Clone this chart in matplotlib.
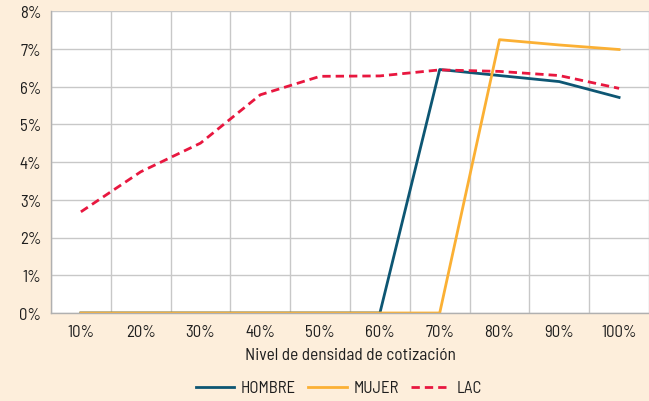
import matplotlib
matplotlib.use("Agg")
import matplotlib.pyplot as plt
from matplotlib.ticker import FuncFormatter

categories = ["10%", "20%", "30%", "40%", "50%", "60%", "70%", "80%", "90%", "100%"]
hombre = [0, 0, 0, 0, 0, 0, 6.45, 6.29, 6.13, 5.71]
mujer = [0, 0, 0, 0, 0, 0, 0, 7.24, 7.10, 6.98]
lac = [2.68, 3.74, 4.50, 5.78, 6.27, 6.28, 6.44, 6.40, 6.29, 5.95]

plt.rcParams["font.family"] = ["Barlow Semi Condensed", "DejaVu Sans"]

bg = "#FDEEDB"
txt = "#1E1E1E"
fig = plt.figure(figsize=(6.49, 4.02), dpi=100, facecolor=bg)
ax = fig.add_axes([51 / 649, 1 - 314 / 402, 598 / 649, 302 / 402])
ax.set_facecolor("white")

x = list(range(len(categories)))
ax.plot(x, hombre, color="#0D5673", lw=2.0, label="HOMBRE")
ax.plot(x, mujer, color="#FBB034", lw=2.0, label="MUJER")
ax.plot(x, lac, color="#E8173F", lw=2.0, ls=(0, (3, 1.8)), label="LAC")

ax.set_xlim(-0.5, len(categories) - 0.5)
ax.set_ylim(0, 8)
ax.set_yticks(range(0, 9))
ax.yaxis.set_major_formatter(FuncFormatter(lambda v, p: f"{int(v)}%"))
ax.set_xticks(x)
ax.set_xticklabels(categories)
ax.set_xticks([i - 0.5 for i in range(len(categories) + 1)], minor=True)

ax.grid(False)
ax.grid(True, which="minor", axis="x", color="#C8C8C8", lw=1)
ax.grid(True, which="major", axis="y", color="#C8C8C8", lw=1)
ax.set_axisbelow(True)

for s in ["top", "right"]:
    ax.spines[s].set_visible(False)
for s in ["left", "bottom"]:
    ax.spines[s].set_color("#B0B0B0")
    ax.spines[s].set_linewidth(1)

ax.tick_params(which="both", length=0, labelsize=12, colors=txt, pad=8)
ax.tick_params(axis="y", pad=7)
ax.set_xlabel("Nivel de densidad de cotización", fontsize=12.5, color=txt, labelpad=6)

leg = fig.legend(loc="center", bbox_to_anchor=(0.522, 1 - 389 / 402), ncol=3, frameon=False,
                 fontsize=12, handlelength=2.3, columnspacing=0.75, handletextpad=0.4)
for t in leg.get_texts():
    t.set_color(txt)

fig.savefig("out.png", dpi=100, facecolor=bg)
